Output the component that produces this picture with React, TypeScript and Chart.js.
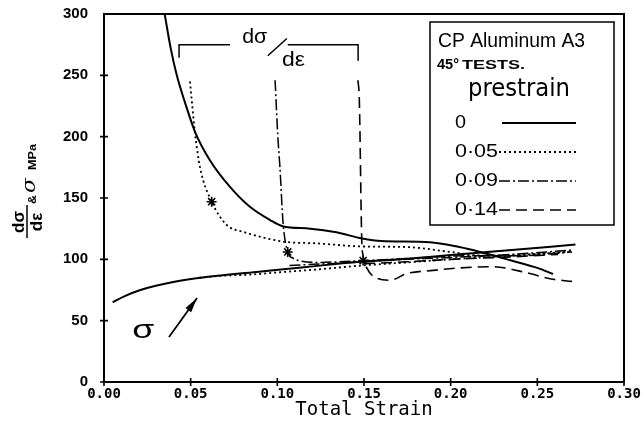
import React, { useEffect, useRef } from 'react';
import { Chart, registerables } from 'chart.js';

Chart.register(...registerables);

// ---------- data ----------
const PRESTRAINS = ['0', '0·05', '0·09', '0·14'];
const X_TICKS = [0, 0.05, 0.1, 0.15, 0.2, 0.25, 0.3];
const Y_TICKS = [0, 50, 100, 150, 200, 250, 300];

// work-hardening rate dσ/dε (MPa)
const SLOPE_0_X = [0.035, 0.0385, 0.042, 0.0467, 0.0525, 0.061, 0.0727, 0.084, 0.0958, 0.103, 0.119, 0.134, 0.149, 0.16, 0.188, 0.205, 0.217, 0.235, 0.25, 0.259];
const SLOPE_0_Y = [300, 272, 250, 228, 204, 181, 159, 143, 132, 127, 125, 122, 117, 115, 114, 110, 106, 99, 93, 88];

const SLOPE_05_X = [0.0496, 0.0506, 0.0525, 0.0554, 0.0621, 0.0708, 0.0802, 0.1033, 0.123, 0.149, 0.175, 0.2, 0.22, 0.245, 0.27];
const SLOPE_05_Y = [245, 230, 203, 175, 147, 128, 122.5, 114.5, 113, 110.5, 110, 106, 103, 104, 106];

const SLOPE_09_X = [0.0987, 0.1003, 0.1015, 0.1033, 0.106, 0.109, 0.114, 0.123, 0.15, 0.18, 0.21, 0.24, 0.27];
const SLOPE_09_Y = [246, 200, 175, 130, 106, 101, 98.5, 97.5, 99, 101, 103, 103, 106];

const SLOPE_14_X = [0.1465, 0.1473, 0.1487, 0.1495, 0.152, 0.157, 0.165, 0.175, 0.19, 0.205, 0.224, 0.244, 0.258, 0.27];
const SLOPE_14_Y = [246, 230, 116, 103, 92, 85, 83, 88.5, 91, 93, 94, 89, 84, 82];

// flow stress σ (MPa)
const STRESS_0_X = [0.005, 0.012, 0.021, 0.04, 0.059, 0.088, 0.117, 0.146, 0.175, 0.2, 0.23, 0.272];
const STRESS_0_Y = [65, 70, 75, 81.5, 85.6, 89.7, 93.8, 97.8, 100.5, 103.5, 107, 112];

const STRESS_05_X = [0.055, 0.07, 0.084, 0.1, 0.125, 0.149, 0.175, 0.2, 0.235, 0.27];
const STRESS_05_Y = [85, 86.8, 87.5, 89.3, 92, 95, 97.5, 100, 103, 106.5];

const STRESS_09_X = [0.107, 0.13, 0.15, 0.175, 0.2, 0.235, 0.27];
const STRESS_09_Y = [95, 96.5, 98, 100, 101.5, 104, 107.5];

const STRESS_14_X = [0.15, 0.175, 0.2, 0.235, 0.262];
const STRESS_14_Y = [96.5, 98, 100, 102, 104];

// intersection markers (dσ/dε = σ)
const STAR_X = [0.0621, 0.106, 0.1495];
const STAR_Y = [147, 106, 99];

// ---------- styles ----------
const DASHES: number[][] = [[], [2, 3], [11, 3, 2, 3], [11, 6]];
const WIDTHS = [2, 1.8, 1.5, 1.6];

const pts = (xs: number[], ys: number[]) => xs.map((x, i) => ({ x, y: ys[i] }));

function lineDs(label: string, xs: number[], ys: number[], k: number) {
  return {
    type: 'line' as const,
    label,
    data: pts(xs, ys),
    borderColor: '#000',
    borderWidth: WIDTHS[k],
    borderDash: DASHES[k],
    pointRadius: 0,
    fill: false,
    cubicInterpolationMode: 'monotone' as const,
  };
}

function fitText(ctx: CanvasRenderingContext2D, text: string, left: number, cy: number, font: string, width: number) {
  ctx.save();
  ctx.font = font;
  ctx.textAlign = 'left';
  ctx.textBaseline = 'middle';
  const w = ctx.measureText(text).width || 1;
  ctx.translate(left, cy);
  ctx.scale(width / w, 1);
  ctx.fillText(text, 0, 0);
  ctx.restore();
}

const overlay = {
  id: 'overlay',
  afterDraw(chart: any) {
    const { ctx, chartArea: a, scales } = chart;
    const xs = scales.x;
    const ys = scales.y;
    const px = (v: number) => xs.getPixelForValue(v);
    const py = (v: number) => ys.getPixelForValue(v);
    ctx.save();
    ctx.strokeStyle = '#000';
    ctx.fillStyle = '#000';
    ctx.setLineDash([]);

    // frame top & right
    ctx.lineWidth = 2;
    ctx.beginPath();
    ctx.moveTo(a.left, a.top);
    ctx.lineTo(a.right, a.top);
    ctx.lineTo(a.right, a.bottom);
    ctx.stroke();

    // cross ticks
    ctx.lineWidth = 1.6;
    ctx.beginPath();
    X_TICKS.forEach((v) => {
      const x = px(v);
      ctx.moveTo(x, a.bottom - 4);
      ctx.lineTo(x, a.bottom + 4);
    });
    Y_TICKS.forEach((v) => {
      if (v === 300) return;
      const y = py(v);
      ctx.moveTo(a.left - 4, y);
      ctx.lineTo(a.left + 4, y);
    });
    ctx.stroke();

    // y axis title (rotated)
    ctx.save();
    ctx.translate(a.left - 77, 238);
    ctx.rotate(-Math.PI / 2);
    ctx.font = 'bold 17px "Liberation Sans", Arial, sans-serif';
    ctx.textAlign = 'center';
    ctx.textBaseline = 'alphabetic';
    ctx.fillText('dσ', 16, -3);
    ctx.textBaseline = 'top';
    ctx.fillText('dε', 16, 2);
    ctx.lineWidth = 1.5;
    ctx.beginPath();
    ctx.moveTo(0, 0);
    ctx.lineTo(33, 0);
    ctx.stroke();
    ctx.restore();
    ctx.save();
    ctx.translate(a.left - 77, 238);
    ctx.rotate(-Math.PI / 2);
    fitText(ctx, '&', 34, 6, 'bold 11px "Liberation Sans", Arial, sans-serif', 9);
    fitText(ctx, 'σ', 45, 3, 'italic 18px "DejaVu Serif", serif', 15);
    fitText(ctx, 'MPa', 68, 6, 'bold 11px "Liberation Sans", Arial, sans-serif', 26);
    ctx.restore();

    // dσ/dε bracket annotation
    const by = py(275);
    const bx0 = px(0.0433);
    const bx1 = px(0.1466);
    ctx.lineWidth = 1.5;
    ctx.beginPath();
    ctx.moveTo(bx0, by + 13);
    ctx.lineTo(bx0, by);
    ctx.lineTo(px(0.0727), by);
    ctx.moveTo(px(0.106), by);
    ctx.lineTo(bx1, by);
    ctx.lineTo(bx1, by + 16);
    ctx.stroke();
    fitText(ctx, 'dσ', px(0.0797), py(281), '20px "Liberation Sans", Arial, sans-serif', 25);
    ctx.beginPath();
    ctx.moveTo(px(0.0945), py(266));
    ctx.lineTo(px(0.1055), py(280));
    ctx.stroke();
    fitText(ctx, 'dε', px(0.1027), py(262), '20px "Liberation Sans", Arial, sans-serif', 23);

    // σ label and arrow
    fitText(ctx, 'σ', px(0.0163), py(42), '26px "Liberation Sans", Arial, sans-serif', 22);
    const ax0 = px(0.0375), ay0 = py(36.7), ax1 = px(0.0537), ay1 = py(68.5);
    ctx.lineWidth = 1.8;
    ctx.beginPath();
    ctx.moveTo(ax0, ay0);
    ctx.lineTo(ax1, ay1);
    ctx.stroke();
    const ang = Math.atan2(ay1 - ay0, ax1 - ax0);
    const L = 15, W = 3.5;
    ctx.beginPath();
    ctx.moveTo(ax1, ay1);
    ctx.lineTo(ax1 - L * Math.cos(ang) + W * Math.sin(ang), ay1 - L * Math.sin(ang) - W * Math.cos(ang));
    ctx.lineTo(ax1 - L * Math.cos(ang) - W * Math.sin(ang), ay1 - L * Math.sin(ang) + W * Math.cos(ang));
    ctx.closePath();
    ctx.fill();

    // legend box
    ctx.lineWidth = 1.5;
    ctx.strokeRect(430, 22, 184, 203);
    fitText(ctx, 'CP Aluminum A3', 438, 41, '20px "Liberation Sans", Arial, sans-serif', 147);
    fitText(ctx, '45°', 437, 65, 'bold 14px "Liberation Sans", Arial, sans-serif', 22);
    fitText(ctx, 'TESTS.', 462, 66, 'bold 12px "Liberation Sans", Arial, sans-serif', 63);
    fitText(ctx, 'prestrain', 468, 90, '24px "DejaVu Sans", sans-serif', 102);
    const rows = [123, 152, 181, 210];
    PRESTRAINS.forEach((lab, i) => {
      const cy = rows[i];
      fitText(ctx, lab, 455, cy, '19px "Liberation Sans", Arial, sans-serif', lab.length === 1 ? 11 : 43);
      ctx.save();
      ctx.lineWidth = WIDTHS[i];
      ctx.setLineDash(DASHES[i]);
      ctx.beginPath();
      ctx.moveTo(i === 0 ? 502 : 499, cy);
      ctx.lineTo(576, cy);
      ctx.stroke();
      ctx.restore();
    });
    ctx.restore();
  },
};

export default function App() {
  const ref = useRef<HTMLCanvasElement | null>(null);

  useEffect(() => {
    document.body.style.margin = '0';
    const canvas = ref.current;
    if (!canvas) return;
    const datasets: any[] = [
      lineDs('dσ/dε ' + PRESTRAINS[0], SLOPE_0_X, SLOPE_0_Y, 0),
      lineDs('dσ/dε ' + PRESTRAINS[1], SLOPE_05_X, SLOPE_05_Y, 1),
      lineDs('dσ/dε ' + PRESTRAINS[2], SLOPE_09_X, SLOPE_09_Y, 2),
      lineDs('dσ/dε ' + PRESTRAINS[3], SLOPE_14_X, SLOPE_14_Y, 3),
      lineDs('σ ' + PRESTRAINS[0], STRESS_0_X, STRESS_0_Y, 0),
      lineDs('σ ' + PRESTRAINS[1], STRESS_05_X, STRESS_05_Y, 1),
      lineDs('σ ' + PRESTRAINS[2], STRESS_09_X, STRESS_09_Y, 2),
      lineDs('σ ' + PRESTRAINS[3], STRESS_14_X, STRESS_14_Y, 3),
      {
        type: 'scatter',
        label: 'intersections',
        data: pts(STAR_X, STAR_Y),
        pointStyle: 'star',
        pointRadius: 5,
        borderColor: '#000',
        borderWidth: 1.6,
        backgroundColor: '#000',
        showLine: false,
      },
    ];
    const chart = new Chart(canvas, {
      type: 'line',
      data: { datasets },
      options: {
        animation: false,
        responsive: false,
        devicePixelRatio: 1,
        events: [],
        layout: { padding: { top: 14, right: 20, left: 0, bottom: 0 } },
        plugins: { legend: { display: false }, tooltip: { enabled: false } },
        scales: {
          x: {
            type: 'linear',
            min: 0,
            max: 0.3,
            afterBuildTicks: (s: any) => { s.ticks = X_TICKS.map((v) => ({ value: v })); },
            afterFit: (s: any) => {
              s.height = 45;
              s.paddingLeft = 0; s.paddingRight = 0; s.paddingTop = 0; s.paddingBottom = 0;
            },
            grid: { display: false, drawTicks: false },
            border: { display: true, color: '#000', width: 2 },
            ticks: {
              color: '#000',
              padding: 4,
              maxRotation: 0,
              autoSkip: false,
              font: { family: '"DejaVu Sans Mono", monospace', size: 14, weight: 'bold' },
              callback: (v: any) => Number(v).toFixed(2),
            },
            title: {
              display: true,
              text: 'Total Strain',
              color: '#000',
              padding: { top: 0, bottom: 6 },
              font: { family: '"DejaVu Sans Mono", monospace', size: 19 },
            },
          },
          y: {
            type: 'linear',
            min: 0,
            max: 300,
            afterBuildTicks: (s: any) => { s.ticks = Y_TICKS.map((v) => ({ value: v })); },
            afterFit: (s: any) => {
              s.width = 104;
              s.paddingLeft = 0; s.paddingRight = 0; s.paddingTop = 0; s.paddingBottom = 0;
            },
            grid: { display: false, drawTicks: false },
            border: { display: true, color: '#000', width: 2 },
            ticks: {
              color: '#000',
              padding: 16,
              autoSkip: false,
              font: { family: '"Liberation Sans", Arial, sans-serif', size: 15, weight: 'bold' },
              callback: (v: any) => String(v),
            },
          },
        },
      } as any,
      plugins: [overlay],
    });
    return () => chart.destroy();
  }, []);

  return (
    <div style={{ width: 644, height: 427, background: '#fff' }}>
      <canvas ref={ref} width={644} height={427} style={{ display: 'block' }} />
    </div>
  );
}
